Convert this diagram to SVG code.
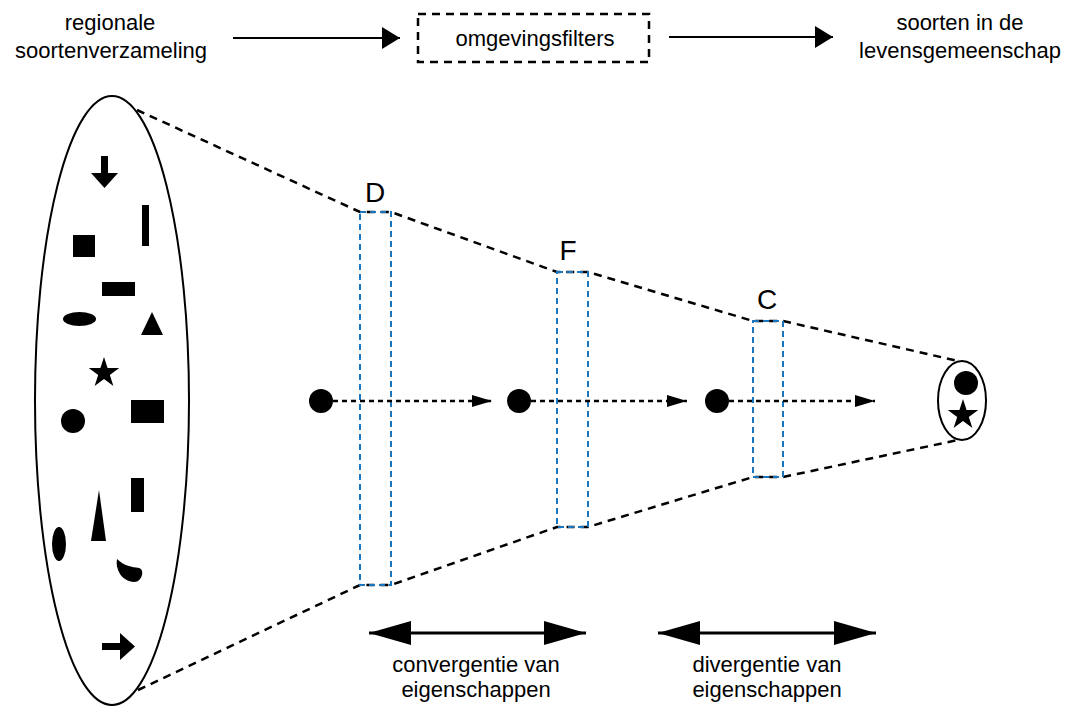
<svg xmlns="http://www.w3.org/2000/svg" width="1071" height="707" viewBox="0 0 1071 707">
<defs>
<style>
text{font-family:"Liberation Sans",Arial,sans-serif;fill:#000;}
.t{font-size:22px;text-anchor:middle;}
.lab{font-size:28px;text-anchor:middle;}
.solid{stroke:#000;stroke-width:2;fill:none;}
.dash{stroke:#000;stroke-width:2.5;fill:none;stroke-dasharray:8 6;}
.dot{stroke:#000;stroke-width:2.5;fill:none;stroke-dasharray:5 4;}
.blue{stroke:#1a75bc;stroke-width:2;fill:none;stroke-dasharray:6 4;}
.fill{fill:#000;stroke:none;}
</style>
<marker id="ah" markerUnits="userSpaceOnUse" markerWidth="18" markerHeight="22" refX="18" refY="11" orient="auto"><path d="M0,0 L18,11 L0,22 z" fill="#000"/></marker>
<marker id="ahs" markerUnits="userSpaceOnUse" markerWidth="20" markerHeight="12" refX="20" refY="6" orient="auto"><path d="M0,0 L20,6 L0,12 z" fill="#000"/></marker>
<marker id="ahb" markerUnits="userSpaceOnUse" markerWidth="42" markerHeight="24" refX="42" refY="12" orient="auto-start-reverse"><path d="M0,0 L42,12 L0,24 z" fill="#000"/></marker>
<symbol id="star" viewBox="-1 -1 2 2" overflow="visible"><polygon points="0,-1 0.2245,-0.309 0.9511,-0.309 0.3633,0.118 0.5878,0.809 0,0.382 -0.5878,0.809 -0.3633,0.118 -0.9511,-0.309 -0.2245,-0.309"/></symbol>
</defs>

<g id="top-regional">
<text class="t" x="110" y="30">regionale</text>
<text class="t" x="111" y="58">soortenverzameling</text>
</g>
<g id="top-filters">
<rect class="dash" x="418" y="14" width="231" height="48"/>
<text class="t" x="535" y="46">omgevingsfilters</text>
</g>
<g id="top-community">
<text class="t" x="960" y="30">soorten in de</text>
<text class="t" x="960" y="58">levensgemeenschap</text>
</g>

<g id="regional-pool">
<ellipse class="solid" cx="112" cy="400.5" rx="77" ry="304.5"/>
<rect class="fill" x="101" y="156" width="7" height="18"/>
<polygon class="fill" points="91,173 118,173 104.5,188"/>
<rect class="fill" x="142" y="205" width="7" height="41"/>
<rect class="fill" x="73" y="235" width="22" height="22"/>
<rect class="fill" x="102" y="282" width="33" height="14"/>
<ellipse class="fill" cx="79.5" cy="319" rx="16.5" ry="7"/>
<polygon class="fill" points="152,312 141,335 163,335"/>
<use href="#star" x="88" y="357" width="32" height="32"/>
<circle class="fill" cx="73" cy="421" r="12"/>
<rect class="fill" x="131" y="400" width="33" height="23"/>
<rect class="fill" x="131" y="478" width="13" height="34"/>
<polygon class="fill" points="99,490 91,541 106,541"/>
<ellipse class="fill" cx="59" cy="544" rx="7" ry="17"/>
<path class="fill" d="M117,559 C124,566 132,567 139,568 C144,569 143,578 138,581 C132,584 123,579 120,574 C117,569 116,564 117,559 Z"/>
<rect class="fill" x="102" y="643" width="19" height="7"/>
<polygon class="fill" points="120,633 135,646.5 120,660"/>
</g>

<g id="funnel">
<polyline class="dash" points="137,110 360,212 391,212 557,272 588,272 753,321 783,321 958,361"/>
<polyline class="dash" points="138,690 360,585 391,585 557,527 588,527 753,477 783,477 958,440"/>
</g>

<g id="filter-D">
<rect class="blue" x="360" y="212" width="31" height="373"/>
<text class="lab" x="375" y="202">D</text>
</g>
<g id="filter-F">
<rect class="blue" x="557" y="272" width="31" height="255"/>
<text class="lab" x="568" y="260">F</text>
</g>
<g id="filter-C">
<rect class="blue" x="753" y="321" width="30" height="156"/>
<text class="lab" x="767" y="309">C</text>
</g>

<g id="community">
<ellipse class="solid" cx="962" cy="400.5" rx="24" ry="39.5"/>
<circle class="fill" cx="966" cy="383" r="12"/>
<use href="#star" x="947" y="399" width="32" height="32"/>
</g>

<g id="species-dots">
<circle class="fill" cx="321" cy="401" r="12"/>
<circle class="fill" cx="519" cy="401" r="12"/>
<circle class="fill" cx="717" cy="401" r="12"/>
</g>

<g id="connectors">
<line class="solid" x1="233" y1="38" x2="400" y2="38" marker-end="url(#ah)"/>
<line class="solid" x1="669" y1="37" x2="833" y2="37" marker-end="url(#ah)"/>
<line class="dot" x1="333" y1="401" x2="492" y2="401" marker-end="url(#ahs)"/>
<line class="dot" x1="531" y1="401" x2="687" y2="401" marker-end="url(#ahs)"/>
<line class="dot" x1="729" y1="401" x2="875" y2="401" marker-end="url(#ahs)"/>
<line stroke="#000" stroke-width="3" x1="369" y1="633" x2="586" y2="633" marker-start="url(#ahb)" marker-end="url(#ahb)"/>
<line stroke="#000" stroke-width="3" x1="658" y1="633" x2="876" y2="633" marker-start="url(#ahb)" marker-end="url(#ahb)"/>
</g>

<g id="bottom-labels">
<text class="t" x="476" y="672">convergentie van</text>
<text class="t" x="476" y="697">eigenschappen</text>
<text class="t" x="767" y="672">divergentie van</text>
<text class="t" x="767" y="697">eigenschappen</text>
</g>
</svg>
